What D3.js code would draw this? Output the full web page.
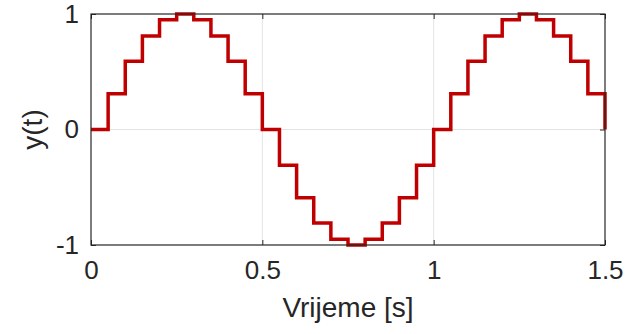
<!DOCTYPE html>
<html>
<head>
<meta charset="utf-8">
<script src="https://cdn.jsdelivr.net/npm/d3@7"></script>
<style>
  body { margin: 0; background: #fff; }
  text { font-family: "Liberation Sans", Arial, Helvetica, sans-serif; fill: #262626; }
</style>
</head>
<body>
<svg id="chart" width="631" height="334"></svg>
<script>
// sample times [s] and held output values
const times = [0, 0.05, 0.1, 0.15, 0.2, 0.25, 0.3, 0.35, 0.4, 0.45,
  0.5, 0.55, 0.6, 0.65, 0.7, 0.75, 0.8, 0.85, 0.9, 0.95,
  1, 1.05, 1.1, 1.15, 1.2, 1.25, 1.3, 1.35, 1.4, 1.45, 1.5];
const yValues = [0, 0.31, 0.59, 0.81, 0.95, 1, 0.95, 0.81, 0.59, 0.31,
  0, -0.31, -0.59, -0.81, -0.95, -1, -0.95, -0.81, -0.59, -0.31,
  0, 0.31, 0.59, 0.81, 0.95, 1, 0.95, 0.81, 0.59, 0.31, 0];
const xTicks = [0, 0.5, 1, 1.5];
const yTicks = [-1, 0, 1];

const svg = d3.select('#chart'),
  margin = { top: 14, right: 26, bottom: 89, left: 91 },
  width = 631 - margin.left - margin.right,
  height = 334 - margin.top - margin.bottom,
  g = svg.append('g').attr('transform', 'translate(' + margin.left + ',' + margin.top + ')');

const x = d3.scaleLinear().domain([0, 1.5]).range([0, width]);
const y = d3.scaleLinear().domain([-1, 1]).range([height, 0]);

// grid
g.selectAll('.gx').data(xTicks.slice(1, -1)).enter().append('line')
  .attr('x1', d => x(d)).attr('x2', d => x(d))
  .attr('y1', 0).attr('y2', height)
  .attr('stroke', '#e3e3e3').attr('stroke-width', 1);
g.selectAll('.gy').data(yTicks.slice(1, -1)).enter().append('line')
  .attr('x1', 0).attr('x2', width)
  .attr('y1', d => y(d)).attr('y2', d => y(d))
  .attr('stroke', '#e3e3e3').attr('stroke-width', 1);

// axes (ticks inward, MATLAB style)
const fmt = d => String(d).replace('−', '-');
g.append('g').attr('transform', 'translate(0,' + height + ')')
  .call(d3.axisBottom(x).tickValues(xTicks).tickSizeInner(-5).tickSizeOuter(0).tickPadding(16).tickFormat(fmt))
  .call(a => a.select('.domain').remove());
g.append('g')
  .call(d3.axisTop(x).tickValues(xTicks).tickSizeInner(-5).tickSizeOuter(0).tickFormat(''))
  .call(a => a.select('.domain').remove());
g.append('g')
  .call(d3.axisLeft(y).tickValues(yTicks).tickSizeInner(-5).tickSizeOuter(0).tickPadding(12).tickFormat(fmt))
  .call(a => a.select('.domain').remove());
g.append('g').attr('transform', 'translate(' + width + ',0)')
  .call(d3.axisRight(y).tickValues(yTicks).tickSizeInner(-5).tickSizeOuter(0).tickFormat(''))
  .call(a => a.select('.domain').remove());

svg.selectAll('.tick line').attr('stroke', '#262626');
svg.selectAll('.tick text').style('font-size', '26px').attr('fill', '#262626');

// signal
const line = d3.line()
  .x(d => x(d[0]))
  .y(d => y(d[1]))
  .curve(d3.curveStepAfter);
g.append('path')
  .datum(times.map((t, i) => [t, yValues[i]]))
  .attr('d', line)
  .attr('fill', 'none')
  .attr('stroke', '#c00000')
  .attr('stroke-width', 3.5)
  .attr('stroke-linejoin', 'miter');

// box
g.append('rect')
  .attr('width', width).attr('height', height)
  .attr('fill', 'none').attr('stroke', '#262626').attr('stroke-width', 1.2);

// labels
svg.append('text')
  .attr('x', margin.left + width / 2).attr('y', 317)
  .attr('text-anchor', 'middle').style('font-size', '28px')
  .text('Vrijeme [s]');
svg.append('text')
  .attr('transform', 'translate(42,' + (margin.top + height / 2) + ') rotate(-90)')
  .attr('text-anchor', 'middle').style('font-size', '28px')
  .text('y(t)');
</script>
</body>
</html>
